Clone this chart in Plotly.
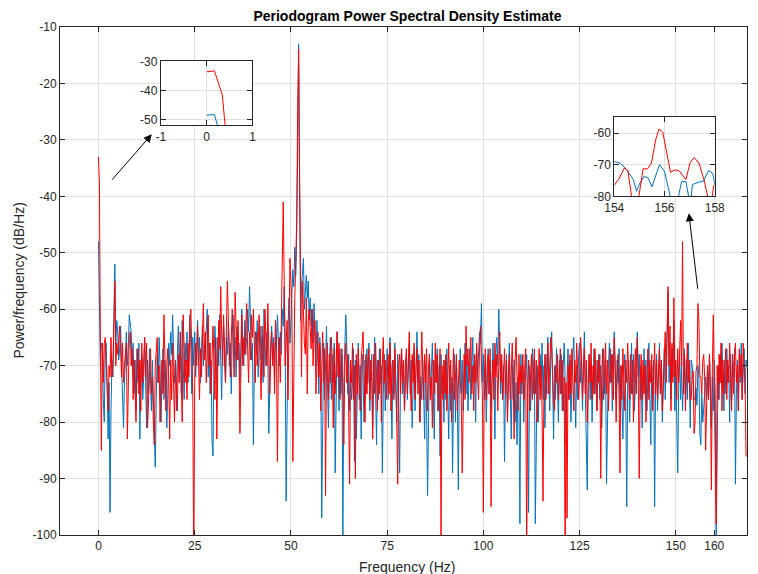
import plotly.graph_objects as go
import numpy as np

# ---------------- data (dB/Hz), frequency step 0.25 Hz from 0 to 168.5 Hz ----------------
freq_step = 0.25

blue_psd = [
    -48,-56,-70,-66,-67,-76,-80,-67,-66,-73,-83,-73,-96,-78,-69,-72,-60,-52,-66,-62,
    -64,-69,-67,-63,-70,-76,-81,-73,-68,-64,-70,-67,-61,-63,-64,-70,-66,-75,-69,-78,
    -67,-73,-66,-83,-70,-68,-76,-72,-65,-73,-81,-69,-75,-67,-72,-78,-69,-75,-84,-88,
    -76,-68,-73,-65,-70,-80,-72,-67,-76,-69,-73,-81,-75,-66,-70,-64,-68,-61,-67,-73,
    -70,-78,-68,-63,-72,-66,-75,-62,-69,-76,-66,-70,-64,-73,-68,-61,-67,-75,-65,-70,
    -64,-72,-67,-62,-69,-65,-73,-68,-63,-70,-66,-68,-64,-60,-72,-66,-75,-69,-83,-86,
    -70,-63,-68,-73,-65,-70,-61,-67,-76,-66,-63,-69,-73,-65,-68,-62,-70,-66,-75,-64,
    -61,-68,-65,-72,-63,-69,-66,-73,-64,-60,-67,-70,-62,-68,-65,-60,-64,-56,-62,-69,
    -66,-84,-70,-64,-68,-62,-72,-67,-63,-69,-65,-73,-60,-66,-70,-64,-68,-82,-72,-66,
    -63,-69,-65,-72,-62,-67,-61,-66,-70,-64,-68,-60,-63,-56,-65,-94,-70,-63,-58,-66,
    -62,-57,-53,-56,-49,-54,-47,-32,-13,-38,-62,-56,-53,-51,-60,-56,-54,-58,-55,-62,
    -58,-63,-60,-66,-59,-64,-70,-62,-67,-75,-65,-69,-97,-72,-66,-76,-68,-63,-73,-81,
    -70,-65,-76,-68,-73,-66,-89,-72,-64,-69,-78,-67,-75,-68,-100,-73,-65,-61,-66,-75,
    -68,-78,-70,-76,-73,-67,-87,-69,-83,-72,-66,-76,-70,-83,-68,-73,-80,-69,-75,-67,
    -73,-66,-78,-70,-68,-81,-72,-65,-75,-84,-69,-76,-67,-73,-70,-89,-75,-68,-78,-72,
    -67,-76,-70,-65,-73,-83,-69,-75,-66,-72,-80,-68,-76,-89,-70,-67,-75,-69,-78,-72,
    -68,-76,-72,-66,-75,-69,-81,-73,-67,-78,-70,-64,-73,-68,-80,-72,-76,-69,-75,-83,
    -70,-78,-93,-73,-68,-76,-72,-66,-75,-83,-69,-73,-67,-78,-70,-86,-68,-75,-72,-80,
    -69,-76,-67,-73,-83,-70,-78,-72,-89,-75,-68,-80,-70,-76,-92,-72,-67,-75,-69,-78,
    -70,-66,-75,-68,-78,-72,-67,-76,-70,-65,-73,-69,-80,-67,-72,-68,-64,-66,-59,-73,
    -68,-76,-70,-80,-72,-67,-75,-69,-78,-73,-66,-72,-83,-68,-65,-70,-60,-67,-75,-69,
    -76,-70,-87,-73,-68,-78,-72,-66,-75,-83,-70,-76,-69,-80,-73,-84,-72,-76,-98,-68,
    -75,-70,-80,-73,-72,-68,-76,-96,-70,-78,-73,-67,-75,-69,-98,-76,-70,-80,-72,-68,
    -73,-66,-76,-70,-81,-68,-75,-65,-72,-78,-69,-64,-73,-83,-70,-76,-67,-72,-80,-69,
    -75,-68,-78,-70,-66,-73,-84,-72,-67,-76,-69,-80,-73,-68,-65,-72,-81,-70,-76,-68,
    -66,-73,-69,-78,-70,-64,-75,-83,-92,-72,-68,-76,-70,-80,-73,-67,-75,-69,-78,-72,
    -68,-76,-70,-81,-73,-67,-75,-69,-91,-78,-70,-66,-73,-68,-78,-72,-64,-70,-76,-69,
    -73,-67,-78,-70,-75,-83,-72,-68,-76,-95,-73,-69,-80,-70,-66,-75,-68,-78,-72,-67,
    -64,-72,-68,-76,-70,-81,-73,-67,-75,-69,-78,-72,-66,-75,-84,-70,-76,-69,-95,-73,
    -68,-78,-70,-66,-75,-69,-80,-72,-67,-76,-70,-64,-57,-73,-69,-76,-67,-72,-62,-78,
    -70,-80,-89,-73,-68,-76,-70,-78,-72,-67,-75,-69,-76,-66,-72,-81,-69,-70,-72,-76,
    -76,-74,-77,-70,-72,-82,-84,-75,-80,-76,-75,-72,-76,-70,-76,-68,-75,-81,-72,-78,
    -69,-75,-100,-80,-70,-76,-68,-73,-66,-72,-78,-69,-75,-67,-73,-70,-80,-68,-76,-69,
    -72,-67,-91,-75,-69,-78,-68,-73,-66,-76,-70,-67,-75,-69,-70,
]

red_psd = [
    -33,-38,-67,-85,-66,-73,-66,-65,-70,-73,-78,-70,-72,-65,-72,-70,-62,-55,-70,-66,
    -68,-66,-63,-67,-72,-66,-73,-70,-68,-66,-83,-73,-65,-64,-70,-67,-76,-69,-73,-80,
    -70,-67,-75,-69,-78,-66,-73,-68,-65,-72,-66,-81,-76,-70,-67,-75,-72,-80,-84,-70,
    -68,-65,-73,-70,-80,-76,-69,-75,-61,-68,-78,-70,-67,-73,-83,-69,-76,-66,-72,-80,
    -69,-75,-78,-68,-73,-64,-70,-80,-61,-67,-73,-69,-76,-66,-72,-62,-60,-68,-75,-106,
    -73,-66,-70,-63,-68,-76,-67,-72,-65,-59,-69,-64,-73,-67,-61,-70,-66,-75,-68,-63,
    -69,-76,-65,-83,-70,-62,-67,-56,-64,-70,-61,-67,-73,-63,-55,-62,-68,-72,-65,-60,
    -66,-72,-57,-64,-69,-62,-68,-82,-66,-61,-70,-65,-68,-63,-59,-67,-73,-64,-69,-61,
    -65,-60,-68,-73,-64,-70,-66,-61,-69,-76,-63,-67,-72,-60,-65,-70,-59,-66,-75,-68,
    -64,-70,-66,-75,-62,-68,-87,-69,-65,-73,-63,-52,-41,-55,-70,-66,-62,-76,-58,-51,
    -55,-60,-87,-64,-58,-52,-44,-25,-14,-36,-63,-72,-55,-62,-66,-68,-58,-75,-62,-60,
    -63,-67,-60,-70,-65,-62,-75,-68,-64,-72,-66,-78,-69,-64,-73,-67,-93,-70,-66,-76,
    -68,-73,-65,-70,-81,-67,-75,-69,-64,-72,-66,-76,-70,-67,-75,-84,-70,-66,-73,-68,
    -78,-91,-69,-73,-66,-76,-70,-90,-68,-75,-67,-72,-78,-69,-65,-64,-72,-80,-68,-75,
    -70,-67,-76,-69,-73,-83,-68,-75,-66,-72,-78,-69,-75,-67,-80,-70,-65,-73,-69,-76,
    -72,-68,-75,-66,-78,-70,-69,-76,-67,-73,-80,-91,-70,-68,-75,-67,-73,-69,-78,-70,
    -67,-75,-69,-64,-72,-78,-68,-73,-66,-76,-70,-67,-75,-69,-80,-72,-64,-70,-76,-68,
    -73,-67,-78,-70,-68,-76,-72,-81,-69,-75,-66,-73,-68,-78,-72,-67,-101,-70,-76,-69,
    -75,-68,-78,-72,-66,-75,-69,-80,-70,-67,-76,-72,-68,-78,-73,-69,-73,-75,-89,-72,
    -68,-76,-63,-70,-67,-73,-69,-65,-75,-70,-78,-68,-73,-66,-72,-76,-67,-63,-70,-75,
    -96,-72,-67,-76,-70,-68,-75,-67,-95,-73,-69,-76,-66,-72,-68,-78,-70,-64,-73,-68,
    -76,-70,-67,-75,-69,-80,-72,-68,-76,-70,-66,-73,-83,-69,-65,-72,-78,-68,-75,-70,
    -73,-68,-76,-70,-67,-105,-75,-69,-78,-72,-68,-76,-70,-67,-75,-69,-80,-72,-67,-76,
    -70,-78,-94,-73,-68,-76,-70,-66,-75,-69,-65,-67,-72,-76,-78,-70,-73,-68,-76,-70,
    -67,-75,-69,-78,-72,-106,-73,-97,-70,-76,-68,-75,-67,-72,-78,-69,-73,-66,-70,-76,
    -72,-65,-68,-76,-70,-67,-75,-69,-80,-72,-68,-73,-66,-76,-70,-75,-67,-72,-78,-69,
    -73,-68,-90,-72,-67,-76,-70,-66,-75,-69,-78,-72,-67,-73,-68,-76,-65,-70,-80,-72,
    -68,-75,-89,-70,-76,-67,-72,-78,-69,-73,-66,-70,-76,-68,-75,-69,-80,-72,-67,-75,
    -65,-72,-90,-73,-68,-76,-69,-75,-70,-80,-72,-67,-76,-69,-73,-68,-78,-70,-66,-75,
    -69,-76,-70,-67,-75,-69,-78,-72,-68,-64,-73,-66,-56,-70,-63,-78,-66,-73,-58,-72,
    -69,-76,-67,-73,-66,-62,-70,-48,-75,-68,-78,-70,-66,-73,-69,-76,-76,-72,-71,-82,
    -80,-71,-70,-59,-62,-72,-72,-75,-69,-68,-72,-85,-77,-70,-76,-68,-75,-92,-70,-61,
    -73,-84,-98,-70,-76,-68,-73,-66,-78,-69,-75,-70,-67,-76,-69,-73,-66,-72,-78,-68,
    -75,-69,-66,-73,-70,-78,-67,-72,-68,-76,-66,-70,-73,-86,-86,
]

freq = np.arange(len(blue_psd)) * freq_step

# inset 1 (zoom around 0 Hz)
inset1_freq_red = [0.0, 0.17, 0.34, 0.51]
inset1_red = [-33.6, -33.3, -41.5, -70.0]
inset1_freq_blue = [0.0, 0.17, 0.34]
inset1_blue = [-48.5, -48.3, -58.0]

# inset 2 (zoom 154-158 Hz)
inset2_freq_red = [154.0, 154.17, 154.4, 154.54, 154.69, 154.83, 154.98, 155.15, 155.32, 155.48,
                   155.65, 155.78, 155.93, 156.24, 156.42, 156.59, 156.85, 157.02, 157.18, 157.37,
                   157.57, 157.7, 157.83, 157.96, 158.0]
inset2_red = [-76.5, -74.7, -71.1, -71.8, -80.0, -86.0, -80.0, -71.3, -71.3, -69.5,
              -62.1, -58.7, -59.7, -72.4, -71.6, -72.0, -74.7, -69.3, -67.7, -69.5,
              -74.7, -80.0, -84.0, -76.6, -76.4]
inset2_freq_blue = [154.0, 154.24, 154.5, 154.76, 154.89, 155.02, 155.19, 155.35, 155.5, 155.8,
                    156.0, 156.2, 156.4, 156.68, 156.85, 157.03, 157.11, 157.37, 157.54, 157.76,
                    157.92, 158.0]
inset2_blue = [-69.0, -69.5, -71.6, -74.7, -78.4, -75.8, -73.7, -74.2, -77.0, -70.0,
               -72.1, -80.0, -86.0, -75.4, -75.3, -83.0, -76.3, -75.5, -75.3, -71.8,
               -72.8, -76.3]

main_xticks = [0, 25, 50, 75, 100, 125, 150, 160]
main_yticks = [-100, -90, -80, -70, -60, -50, -40, -30, -20, -10]
inset1_xticks = [-1, 0, 1]
inset1_yticks = [-50, -40, -30]
inset2_xticks = [154, 156, 158]
inset2_yticks = [-80, -70, -60]

BLUE = "#0072BD"
RED = "#FF0000"
AX = "#262626"
GRID = "#E1E1E1"
FONT = "Liberation Sans, Arial, sans-serif"


def labels(vals):
    return [str(v) for v in vals]   # plain hyphen-minus like the reference


fig = go.Figure()
fig.add_trace(go.Scatter(x=freq, y=blue_psd, mode="lines", line=dict(color=BLUE, width=1),
                         xaxis="x", yaxis="y", showlegend=False))
fig.add_trace(go.Scatter(x=freq, y=red_psd, mode="lines", line=dict(color=RED, width=1),
                         xaxis="x", yaxis="y", showlegend=False))
fig.add_trace(go.Scatter(x=inset1_freq_blue, y=inset1_blue, mode="lines", line=dict(color=BLUE, width=1),
                         xaxis="x2", yaxis="y2", showlegend=False))
fig.add_trace(go.Scatter(x=inset1_freq_red, y=inset1_red, mode="lines", line=dict(color=RED, width=1),
                         xaxis="x2", yaxis="y2", showlegend=False))
fig.add_trace(go.Scatter(x=inset2_freq_blue, y=inset2_blue, mode="lines", line=dict(color=BLUE, width=1),
                         xaxis="x3", yaxis="y3", showlegend=False))
fig.add_trace(go.Scatter(x=inset2_freq_red, y=inset2_red, mode="lines", line=dict(color=RED, width=1),
                         xaxis="x3", yaxis="y3", showlegend=False))

common = dict(showline=True, linecolor=AX, linewidth=1, mirror="ticks", ticks="inside",
              ticklen=5, tickcolor=AX, showgrid=True, gridcolor=GRID, gridwidth=1,
              zeroline=False, tickfont=dict(family=FONT, size=12, color=AX))

L, R, T, B = 60, 1, 27, 39
W, H = 758, 574
pw, ph = W - L - R, H - T - B


def xdom(a, b):
    return [(a - L) / pw, (b - L) / pw]


def ydom(top, bot):
    return [(H - B - bot) / ph, (H - B - top) / ph]


fig.update_layout(
    width=W, height=H,
    margin=dict(l=L, r=R, t=T, b=B),
    plot_bgcolor="white", paper_bgcolor="white",
    xaxis=dict(domain=[0, 1], range=[-10, 168.5], tickvals=main_xticks, ticktext=labels(main_xticks),
               anchor="y", **common),
    yaxis=dict(domain=[0, 1], range=[-100, -10], tickvals=main_yticks, ticktext=labels(main_yticks),
               anchor="x", **common),
    xaxis2=dict(domain=xdom(162.3, 255.3), range=[-1, 1], tickvals=inset1_xticks,
                ticktext=labels(inset1_xticks), anchor="y2", **common),
    yaxis2=dict(domain=ydom(61.3, 125.3), range=[-52, -30], tickvals=inset1_yticks,
                ticktext=labels(inset1_yticks), anchor="x2", **common),
    xaxis3=dict(domain=xdom(622.3, 724.3), range=[154, 158], tickvals=inset2_xticks,
                ticktext=labels(inset2_xticks), anchor="y3", **common),
    yaxis3=dict(domain=ydom(116.7, 196.3), range=[-80, -54.8], tickvals=inset2_yticks,
                ticktext=labels(inset2_yticks), anchor="x3", **common),
    title=dict(text="<b>Periodogram Power Spectral Density Estimate</b>", x=0.5 + 4 / pw, xref="paper",
               y=1 - 16 / H, yref="container", xanchor="center", yanchor="middle",
               font=dict(family=FONT, size=14, color="black")),
    font=dict(family=FONT, color=AX),
)

# white backgrounds behind insets
fig.add_shape(type="rect", xref="x2 domain", yref="y2 domain", x0=0, x1=1, y0=0, y1=1,
              fillcolor="white", line=dict(width=0), layer="below")
fig.add_shape(type="rect", xref="x3 domain", yref="y3 domain", x0=0, x1=1, y0=0, y1=1,
              fillcolor="white", line=dict(width=0), layer="below")

# axis labels
fig.add_annotation(text="Frequency (Hz)", x=0.5 + 4 / pw, y=0, xref="paper", yref="paper",
                   xanchor="center", yanchor="top", yshift=-22, showarrow=False,
                   font=dict(family=FONT, size=14, color=AX))
fig.add_annotation(text="Power/frequency (dB/Hz)", x=(18 - L) / pw, y=0.5, xref="paper", yref="paper",
                   xanchor="center", yanchor="middle", textangle=-90, showarrow=False,
                   font=dict(family=FONT, size=14, color=AX))

# arrows
fig.add_annotation(x=13.85, y=-29.0, xref="x", yref="y", ax=-41, ay=47, text="",
                   showarrow=True, arrowhead=2, arrowsize=1.6, arrowwidth=1, arrowcolor="black")
fig.add_annotation(x=153.4, y=-43.0, xref="x", yref="y", ax=9, ay=77, text="",
                   showarrow=True, arrowhead=2, arrowsize=1.6, arrowwidth=1, arrowcolor="black")

fig.write_html("out.html")
